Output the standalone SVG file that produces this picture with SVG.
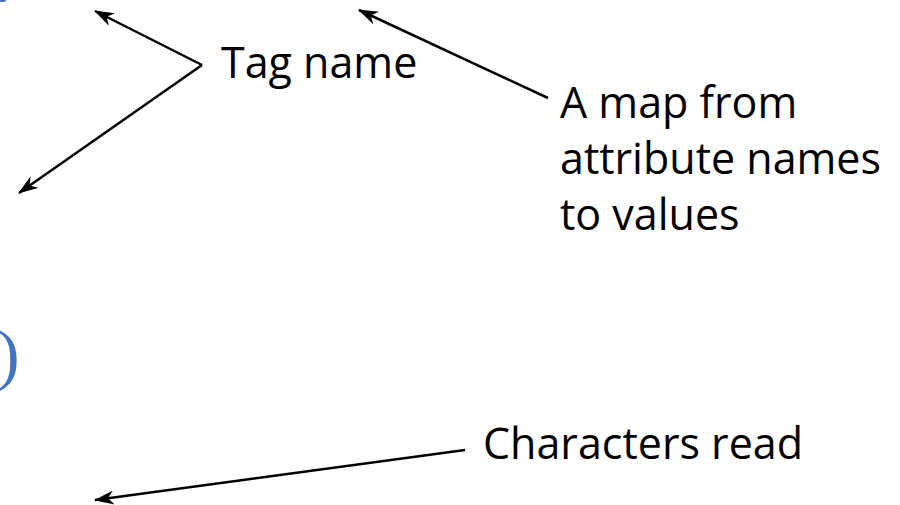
<svg xmlns="http://www.w3.org/2000/svg" width="900" height="505" viewBox="0 0 900 505">
<style>
.lbl{font-family:"Open Sans","Liberation Sans",sans-serif;font-size:43px;fill:#000}
.blue{font-family:"Liberation Serif",serif;fill:#4472C4}
.conn line{stroke:#000;stroke-width:2.5;fill:none}
</style>
<defs>
<marker id="ah" viewBox="0 0 20 14" refX="19" refY="7" markerWidth="20" markerHeight="14" markerUnits="userSpaceOnUse" orient="auto">
<path d="M20,7 L0,0 L6,7 L0,14 Z" fill="#000"/>
</marker>
</defs>
<rect width="900" height="505" fill="#fff"/>
<ellipse cx="2" cy="0" rx="4" ry="2" fill="#4472C4"/>
<text class="blue" x="-3" y="377" font-size="68">)</text>
<g id="tag-name"><text class="lbl" x="221" y="78">Tag name</text></g>
<g id="attr-map"><text class="lbl" x="560" y="118">A map from</text><text class="lbl" x="560" y="174">attribute names</text><text class="lbl" x="560" y="230">to values</text></g>
<g id="chars-read"><text class="lbl" x="483" y="459">Characters read</text></g>
<g class="conn" id="connectors">
<line x1="202" y1="65" x2="95" y2="11" marker-end="url(#ah)"/>
<line x1="202" y1="65" x2="19" y2="193" marker-end="url(#ah)"/>
<line x1="548" y1="98" x2="359" y2="10" marker-end="url(#ah)"/>
<line x1="465" y1="450" x2="95" y2="500" marker-end="url(#ah)"/>
</g>
</svg>
